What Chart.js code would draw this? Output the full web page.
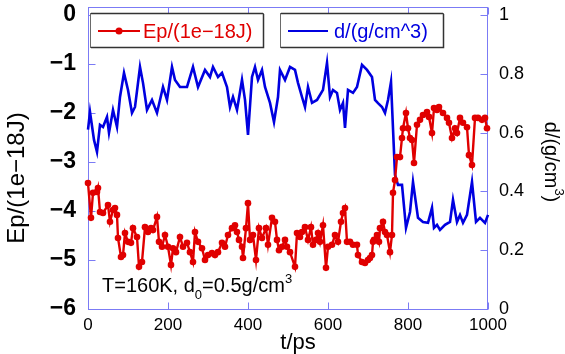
<!DOCTYPE html>
<html>
<head>
<meta charset="utf-8">
<script src="https://cdn.jsdelivr.net/npm/chart.js@4/dist/chart.umd.min.js"></script>
<style>
  html, body { margin: 0; padding: 0; background: #fff; }
  #wrap { width: 565px; height: 354px; }
</style>
</head>
<body>
<div id="wrap"><canvas id="c" width="565" height="354"></canvas></div>
<script>
// Potential energy trace (1e-18 J) against time (ps)
const epTime = [0,7.5,12.5,22.5,25,30,37.5,50,55,62.5,
  67.5,72.5,75,82.5,87.5,92.5,100,107.5,112.5,122.5,
  127.5,135,142.5,150,157.5,162.5,172.5,177.5,185,192.5,
  200,207.5,212.5,220,230,237.5,247.5,255,262.5,267.5,
  275,285,292.5,300,310,317.5,325,335,342.5,350,
  360,367.5,372.5,377.5,385,387.5,395,400,405,412.5,
  420,427.5,435,445,450,460,467.5,472.5,477.5,485,
  492.5,497.5,505,517.5,522.5,530,535,542.5,550,557.5,
  562.5,570,575,580,587.5,595,600,610,617.5,625,
  632.5,637.5,642.5,647.5,655,662.5,672.5,675,685,692.5,
  700,705,710,712.5,715,722.5,727.5,730,737.5,742.5,
  747.5,755,760,762.5,767.5,772.5,780,785,787.5,795,
  800,805,810,815,822.5,830,837.5,847.5,852.5,860,
  865,872.5,877.5,887.5,897.5,902.5,910,917.5,922.5,930,
  937.5,947.5,952.5,960,967.5,975,985,992.5,997.5];
const epValues = [-3.43,-4.14,-3.63,-3.61,-3.53,-4.02,-4.04,-3.88,-4.22,-3.98,
  -3.94,-4.08,-4.55,-4.94,-4.90,-4.45,-4.63,-4.65,-4.35,-4.53,
  -5.14,-5.04,-4.33,-4.43,-4.35,-4.39,-4.12,-4.63,-4.73,-4.49,
  -4.73,-5.10,-4.76,-4.84,-4.53,-4.73,-4.65,-4.84,-5.04,-4.43,
  -4.63,-4.76,-5.00,-4.90,-4.86,-4.90,-4.84,-4.65,-4.73,-4.49,
  -4.35,-4.29,-4.43,-4.59,-4.73,-4.96,-4.35,-3.84,-4.59,-4.49,
  -5.00,-4.35,-4.55,-4.35,-4.69,-4.14,-4.22,-4.59,-4.80,-4.73,
  -4.59,-4.73,-4.84,-5.14,-4.45,-4.53,-4.43,-4.33,-4.59,-4.33,
  -4.69,-4.59,-4.45,-4.63,-4.29,-5.16,-4.73,-4.69,-4.49,-4.63,
  -4.22,-4.04,-3.94,-4.63,-4.63,-4.69,-4.69,-4.90,-5.04,-5.06,
  -5.00,-4.96,-4.90,-4.63,-4.59,-4.49,-4.63,-4.35,-4.22,-4.43,
  -4.49,-4.84,-4.49,-3.63,-3.37,-2.90,-2.90,-2.51,-2.31,-2.00,
  -2.31,-2.51,-2.55,-3.02,-2.24,-2.14,-2.04,-1.98,-2.08,-2.41,
  -1.90,-1.94,-1.88,-2.00,-2.10,-2.20,-2.51,-2.31,-2.41,-2.10,
  -2.20,-2.29,-2.86,-3.06,-2.10,-2.10,-2.14,-2.10,-2.31];

// Density trace (g/cm^3) against time (ps)
const dTime = [0,5,15,22.5,30,37.5,47.5,52.5,62.5,72.5,
  80,90,100,110,117.5,130,137.5,147.5,160,172.5,
  180,187.5,197.5,210,217.5,230,247.5,262.5,275,292.5,
  305,312.5,325,335,347.5,355,362.5,372.5,385,392.5,
  400,410,417.5,425,435,442.5,455,465,475,480,
  492.5,505,517.5,525,535,542.5,550,560,572.5,587.5,
  597.5,605,612.5,622.5,630,637.5,642.5,650,662.5,672.5,
  685,697.5,710,717.5,725,735,742.5,750,757.5,767.5,
  775,785,795,805,812.5,825,837.5,850,860,865,
  872.5,880,892.5,905,912.5,922.5,930,937.5,947.5,960,
  970,980,992.5,1000];
const dValues = [0.61,0.67,0.575,0.534,0.626,0.619,0.653,0.599,0.677,0.619,
  0.721,0.803,0.745,0.667,0.687,0.823,0.769,0.677,0.711,0.667,
  0.711,0.755,0.711,0.823,0.779,0.755,0.755,0.823,0.755,0.813,
  0.789,0.823,0.789,0.803,0.755,0.687,0.721,0.677,0.779,0.711,
  0.592,0.789,0.823,0.779,0.813,0.755,0.701,0.636,0.721,0.813,
  0.779,0.823,0.813,0.769,0.721,0.687,0.755,0.701,0.711,0.745,
  0.837,0.721,0.745,0.735,0.677,0.701,0.616,0.745,0.735,0.755,
  0.830,0.813,0.789,0.711,0.70,0.687,0.667,0.711,0.772,0.456,
  0.422,0.422,0.276,0.330,0.432,0.310,0.296,0.293,0.344,0.276,
  0.286,0.269,0.286,0.296,0.371,0.296,0.320,0.293,0.320,0.432,
  0.296,0.310,0.293,0.320];

const timeTicks = [0, 200, 400, 600, 800, 1000];
const epTicks = [-6, -5, -4, -3, -2, -1, 0];
const dTicks = [0, 0.2, 0.4, 0.6, 0.8, 1];

const epLabel = 'Ep/(1e\u221218J)';
const dLabel = 'd/(g/cm^3)';

const RED = '#e00000';
const BLUE = '#0000e0';
const FRAME = '#7b7bf5';
const FONT = "'Liberation Sans', Arial, sans-serif";

const toPoints = (xs, ys) => xs.map((x, i) => ({ x: x, y: ys[i] }));
const fixTicks = (vals) => (scale) => { scale.ticks = vals.map(v => ({ value: v })); };
const minusFmt = (v) => (v < 0 ? '\u2212' + Math.abs(v) : String(v));
const plainFmt = (v) => String(v);

// Box, inward tick marks
const framePlugin = {
  id: 'framePlugin',
  beforeDatasetsDraw(chart) {
    const { ctx, chartArea: a, scales } = chart;
    const L = Math.round(a.left) + 0.5, R = Math.round(a.right) - 0.5;
    const T = Math.round(a.top) + 0.5, B = Math.round(a.bottom) + 0.5;
    const len = 7;
    ctx.save();
    ctx.strokeStyle = FRAME;
    ctx.lineWidth = 1;
    ctx.strokeRect(L, T, R - L, B - T);
    ctx.beginPath();
    scales.x.ticks.forEach(t => {
      const px = Math.round(scales.x.getPixelForValue(t.value)) + 0.5;
      ctx.moveTo(px, B); ctx.lineTo(px, B - len);
      ctx.moveTo(px, T); ctx.lineTo(px, T + len);
    });
    scales.y.ticks.forEach(t => {
      const py = Math.round(scales.y.getPixelForValue(t.value)) + 0.5;
      ctx.moveTo(L, py); ctx.lineTo(L + len, py);
    });
    scales.y2.ticks.forEach(t => {
      const py = Math.round(scales.y2.getPixelForValue(t.value)) + 0.5;
      ctx.moveTo(R, py); ctx.lineTo(R - len, py);
    });
    ctx.stroke();
    ctx.restore();
  }
};

// Two boxed legend entries, axis titles and the run conditions note
const textPlugin = {
  id: 'textPlugin',
  afterDraw(chart) {
    const { ctx } = chart;
    const ds = chart.data.datasets;
    ctx.save();

    const box = (x0, y0, x1, y1) => {
      ctx.fillStyle = '#fff';
      ctx.fillRect(x0, y0, x1 - x0, y1 - y0);
      ctx.strokeStyle = '#6a6a6a';
      ctx.lineWidth = 1;
      ctx.strokeRect(x0 + 0.5, y0 + 0.5, x1 - x0, y1 - y0);
      ctx.strokeStyle = '#333';
      ctx.lineWidth = 1.5;
      ctx.beginPath();
      ctx.moveTo(x1 + 0.5, y0 + 1); ctx.lineTo(x1 + 0.5, y1 + 0.5); ctx.lineTo(x0 + 1, y1 + 0.5);
      ctx.moveTo(x0 + 1, y0 + 0.5); ctx.lineTo(x1, y0 + 0.5);
      ctx.stroke();
    };
    box(90, 13, 263, 47);
    box(280, 13, 443, 47);

    ctx.lineWidth = 2.2;
    ctx.strokeStyle = ds[0].borderColor;
    ctx.beginPath(); ctx.moveTo(98, 31); ctx.lineTo(140, 31); ctx.stroke();
    ctx.fillStyle = ds[0].borderColor;
    ctx.beginPath(); ctx.arc(119, 31, 3.5, 0, Math.PI * 2); ctx.fill();
    ctx.strokeStyle = ds[1].borderColor;
    ctx.beginPath(); ctx.moveTo(288, 31); ctx.lineTo(328, 31); ctx.stroke();

    ctx.font = '20px ' + FONT;
    ctx.textBaseline = 'middle';
    ctx.textAlign = 'left';
    ctx.fillStyle = ds[0].borderColor;
    ctx.fillText(ds[0].label, 143, 32);
    ctx.fillStyle = ds[1].borderColor;
    ctx.fillText(ds[1].label, 334, 32);

    // x title
    ctx.fillStyle = '#000';
    ctx.textAlign = 'center';
    ctx.font = '22px ' + FONT;
    ctx.fillText('t/ps', 298, 343);

    // left title
    ctx.save();
    ctx.translate(17, 178);
    ctx.rotate(-Math.PI / 2);
    ctx.font = '24px ' + FONT;
    ctx.fillText(epLabel, 0, 0);
    ctx.restore();

    // right title with superscript
    ctx.save();
    ctx.translate(551, 162);
    ctx.rotate(Math.PI / 2);
    ctx.textAlign = 'left';
    const main = 'd/(g/cm', tail = ')';
    ctx.font = '20px ' + FONT;
    const w1 = ctx.measureText(main).width;
    const w3 = ctx.measureText(tail).width;
    ctx.font = '13px ' + FONT;
    const w2 = ctx.measureText('3').width;
    let x = -(w1 + w2 + w3) / 2;
    ctx.font = '20px ' + FONT;
    ctx.fillText(main, x, 0);
    ctx.font = '13px ' + FONT;
    ctx.fillText('3', x + w1, -8);
    ctx.font = '20px ' + FONT;
    ctx.fillText(tail, x + w1 + w2, 0);
    ctx.restore();

    // conditions note
    ctx.textAlign = 'left';
    ctx.textBaseline = 'alphabetic';
    let nx = 102;
    const put = (s, size, dy) => {
      ctx.font = size + 'px ' + FONT;
      ctx.fillText(s, nx, 292 + dy);
      nx += ctx.measureText(s).width;
    };
    put('T=160K, d', 20, 0);
    put('0', 13, 7);
    put('=0.5g/cm', 20, 0);
    put('3', 13, -9);

    ctx.restore();
  }
};

const chart = new Chart(document.getElementById('c'), {
  type: 'line',
  data: {
    datasets: [
      {
        label: epLabel,
        data: toPoints(epTime, epValues),
        yAxisID: 'y',
        borderColor: RED,
        backgroundColor: RED,
        borderWidth: 2.4,
        pointRadius: 3.3,
        pointBorderWidth: 0,
        pointBackgroundColor: RED,
        tension: 0,
        clip: false
      },
      {
        label: dLabel,
        data: toPoints(dTime, dValues),
        yAxisID: 'y2',
        borderColor: BLUE,
        backgroundColor: BLUE,
        borderWidth: 2.6,
        pointRadius: 0,
        tension: 0,
        clip: false
      }
    ]
  },
  options: {
    responsive: false,
    animation: false,
    devicePixelRatio: 1,
    layout: { padding: { top: 7, left: 0, right: 0, bottom: 0 } },
    plugins: { legend: { display: false }, tooltip: { enabled: false } },
    scales: {
      x: {
        type: 'linear',
        position: 'bottom',
        min: 0, max: 1000,
        afterBuildTicks: fixTicks(timeTicks),
        afterFit: (s) => { s.height = 45; s.paddingLeft = 0; s.paddingRight = 0; },
        grid: { display: false, drawTicks: false },
        border: { display: false },
        ticks: { color: '#000', font: { family: FONT, size: 17 }, padding: 6, maxRotation: 0, callback: plainFmt }
      },
      y: {
        type: 'linear',
        position: 'left',
        min: -6, max: 0.163,
        afterBuildTicks: fixTicks(epTicks),
        afterFit: (s) => { s.width = 88; s.paddingTop = 0; s.paddingBottom = 0; },
        grid: { display: false, drawTicks: false },
        border: { display: false },
        ticks: { color: '#000', font: { family: FONT, size: 23, weight: 'bold' }, padding: 12, callback: minusFmt }
      },
      y2: {
        type: 'linear',
        position: 'right',
        min: 0, max: 1.027,
        afterBuildTicks: fixTicks(dTicks),
        afterFit: (s) => { s.width = 77; s.paddingTop = 0; s.paddingBottom = 0; },
        grid: { display: false, drawTicks: false },
        border: { display: false },
        ticks: { color: '#000', font: { family: FONT, size: 18 }, padding: 11, callback: plainFmt }
      }
    }
  },
  plugins: [framePlugin, textPlugin]
});
</script>
</body>
</html>
